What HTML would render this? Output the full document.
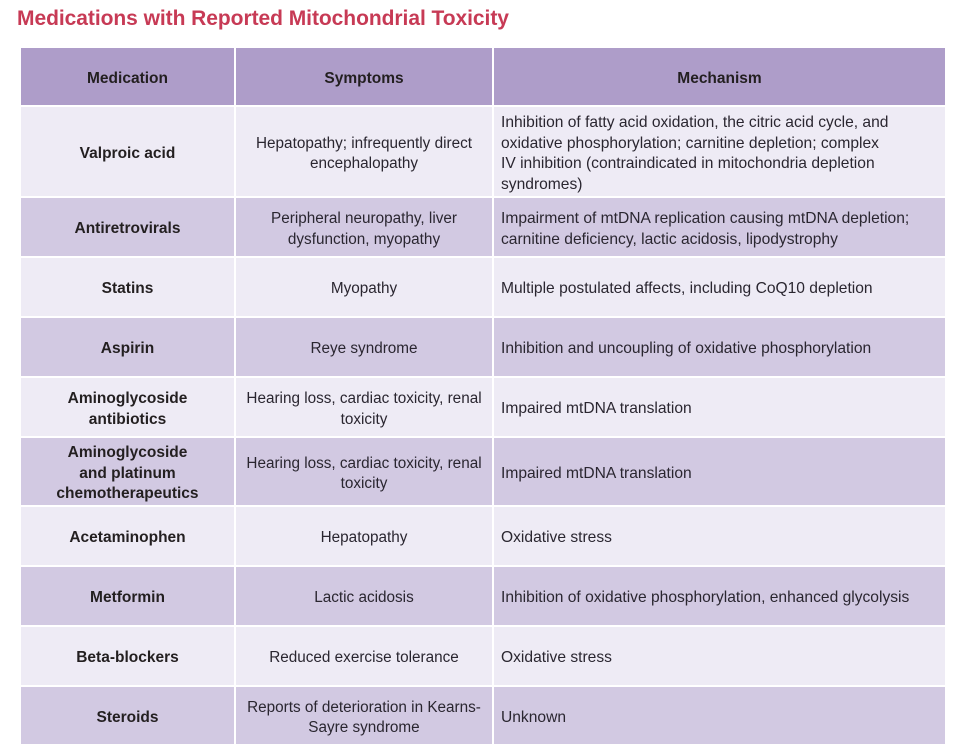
<!DOCTYPE html>
<html>
<head>
<meta charset="utf-8">
<style>
  html,body{margin:0;padding:0;background:#fff;}
  body{width:963px;height:755px;position:relative;overflow:hidden;font-family:"Liberation Sans",Arial,sans-serif;}
  .title{position:absolute;left:17px;top:6px;font-size:21px;font-weight:bold;color:#C73A55;letter-spacing:-0.05px;white-space:nowrap;line-height:26px;}
  .c{position:absolute;display:flex;align-items:center;box-sizing:border-box;color:#2a2630;font-size:15.3px;line-height:20.5px;white-space:nowrap;padding-top:5px;}
  .h{background:#AE9DC9;font-weight:bold;justify-content:center;text-align:center;color:#231F20;font-size:15.5px;padding-top:6px;}
  .L{background:#EEEBF5;}
  .D{background:#D2C9E2;}
  .m{font-weight:bold;justify-content:center;text-align:center;font-size:15.5px;color:#231F20;}
  .s{justify-content:center;text-align:center;}
  .k{padding-left:7px;text-align:left;font-size:15.6px;}
  .c1{left:21px;width:213px;}
  .c2{left:236px;width:256px;}
  .c3{left:494px;width:451px;}
</style>
</head>
<body>
<div class="title">Medications with Reported Mitochondrial Toxicity</div>

<!-- header -->
<div class="c h c1" style="top:48px;height:57px;">Medication</div>
<div class="c h c2" style="top:48px;height:57px;">Symptoms</div>
<div class="c h c3" style="top:48px;height:57px;">Mechanism</div>

<!-- Valproic -->
<div class="c L m c1" style="top:107px;height:89px;">Valproic acid</div>
<div class="c L s c2" style="top:107px;height:89px;"><div>Hepatopathy; infrequently direct<br>encephalopathy</div></div>
<div class="c L k c3" style="top:107px;height:89px;"><div>Inhibition of fatty acid oxidation, the citric acid cycle, and<br>oxidative phosphorylation; carnitine depletion; complex<br>IV inhibition (contraindicated in mitochondria depletion<br>syndromes)</div></div>

<!-- Antiretrovirals -->
<div class="c D m c1" style="top:198px;height:58px;">Antiretrovirals</div>
<div class="c D s c2" style="top:198px;height:58px;"><div>Peripheral neuropathy, liver<br>dysfunction, myopathy</div></div>
<div class="c D k c3" style="top:198px;height:58px;"><div>Impairment of mtDNA replication causing mtDNA depletion;<br>carnitine deficiency, lactic acidosis, lipodystrophy</div></div>

<!-- Statins -->
<div class="c L m c1" style="top:258px;height:58px;">Statins</div>
<div class="c L s c2" style="top:258px;height:58px;">Myopathy</div>
<div class="c L k c3" style="top:258px;height:58px;">Multiple postulated affects, including CoQ10 depletion</div>

<!-- Aspirin -->
<div class="c D m c1" style="top:318px;height:58px;">Aspirin</div>
<div class="c D s c2" style="top:318px;height:58px;">Reye syndrome</div>
<div class="c D k c3" style="top:318px;height:58px;">Inhibition and uncoupling of oxidative phosphorylation</div>

<!-- Aminoglycoside antibiotics -->
<div class="c L m c1" style="top:378px;height:58px;"><div>Aminoglycoside<br>antibiotics</div></div>
<div class="c L s c2" style="top:378px;height:58px;"><div>Hearing loss, cardiac toxicity, renal<br>toxicity</div></div>
<div class="c L k c3" style="top:378px;height:58px;">Impaired mtDNA translation</div>

<!-- Aminoglycoside platinum -->
<div class="c D m c1" style="top:438px;height:67px;"><div>Aminoglycoside<br>and platinum<br>chemotherapeutics</div></div>
<div class="c D s c2" style="top:438px;height:67px;"><div>Hearing loss, cardiac toxicity, renal<br>toxicity</div></div>
<div class="c D k c3" style="top:438px;height:67px;">Impaired mtDNA translation</div>

<!-- Acetaminophen -->
<div class="c L m c1" style="top:507px;height:58px;">Acetaminophen</div>
<div class="c L s c2" style="top:507px;height:58px;">Hepatopathy</div>
<div class="c L k c3" style="top:507px;height:58px;">Oxidative stress</div>

<!-- Metformin -->
<div class="c D m c1" style="top:567px;height:58px;">Metformin</div>
<div class="c D s c2" style="top:567px;height:58px;">Lactic acidosis</div>
<div class="c D k c3" style="top:567px;height:58px;">Inhibition of oxidative phosphorylation, enhanced glycolysis</div>

<!-- Beta-blockers -->
<div class="c L m c1" style="top:627px;height:58px;">Beta-blockers</div>
<div class="c L s c2" style="top:627px;height:58px;">Reduced exercise tolerance</div>
<div class="c L k c3" style="top:627px;height:58px;">Oxidative stress</div>

<!-- Steroids -->
<div class="c D m c1" style="top:687px;height:57px;">Steroids</div>
<div class="c D s c2" style="top:687px;height:57px;"><div>Reports of deterioration in Kearns-<br>Sayre syndrome</div></div>
<div class="c D k c3" style="top:687px;height:57px;">Unknown</div>
</body>
</html>
